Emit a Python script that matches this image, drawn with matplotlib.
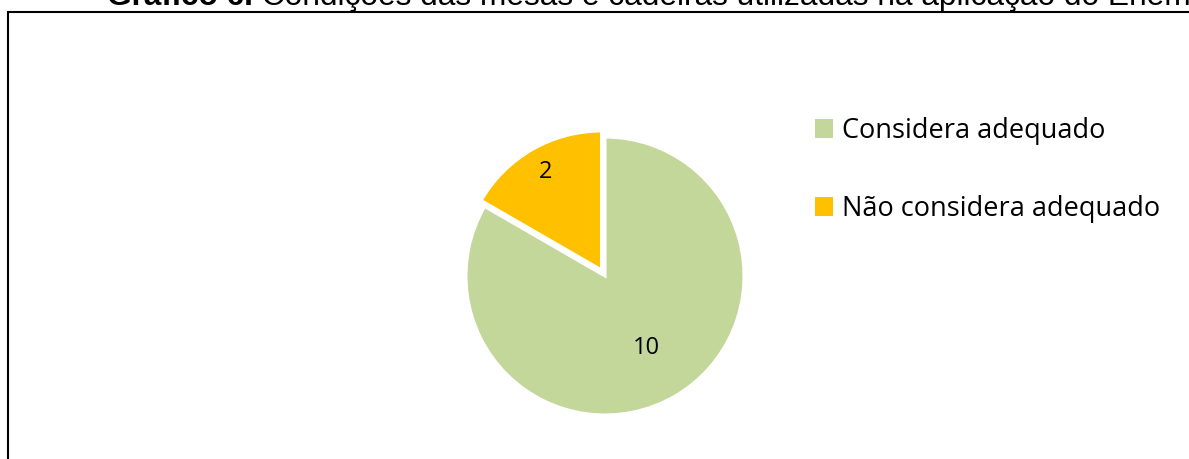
import matplotlib.pyplot as plt
import numpy as np
from matplotlib.patches import Rectangle

# dados do gráfico
categorias = ["Considera adequado", "Não considera adequado"]
valores = [10, 2]
cores = ["#C4D79B", "#FFC000"]
titulo_negrito = "Gráfico 6."
titulo_resto = " Condições das mesas e cadeiras utilizadas na aplicação do Enem"

W, H = 1189, 459
fig = plt.figure(figsize=(W / 100, H / 100), dpi=100)

# moldura do gráfico (sai pela direita e por baixo)
moldura = Rectangle((7.5 / W, -0.1), 1.2, 1 - 12 / H + 0.1, transform=fig.transFigure,
                    fill=False, edgecolor="black", linewidth=1.5)
fig.patches.append(moldura)

# pizza
cx, cy, r = 605, H - 276, 139
meia = 1.2 * r
ax = fig.add_axes([(cx - meia) / W, (cy - meia) / H, 2 * meia / W, 2 * meia / H])
wedges, _ = ax.pie(valores, colors=cores, startangle=90, counterclock=False,
                   explode=[0, 0.05], radius=1,
                   wedgeprops=dict(edgecolor="white", linewidth=2.2))
ax.set_xlim(-1.2, 1.2)
ax.set_ylim(-1.2, 1.2)
ax.set_aspect("equal")
ax.axis("off")

# título cortado no topo
t1 = fig.text(107 / W, 1 - 12 / H, titulo_negrito, fontsize=22.8, fontweight="bold",
              family="Liberation Sans", va="bottom", ha="left")
ax.annotate(titulo_resto, xy=(1, 0), xycoords=t1, fontsize=22.8,
            family="Liberation Sans", va="bottom", ha="left",
            annotation_clip=False)

# rótulos de dados
distancias = [0.6, 0.81]
for w, v, d in zip(wedges, valores, distancias):
    ang = np.deg2rad((w.theta1 + w.theta2) / 2)
    x = w.center[0] + d * np.cos(ang)
    y = w.center[1] + d * np.sin(ang)
    ax.text(x, y, str(v), ha="center", va="center", fontsize=17, family="Open Sans")

# legenda (quadrados sem a borda branca das fatias)
leg = fig.legend(wedges, categorias, loc="upper left", bbox_to_anchor=(815 / W, 1 - 117 / H),
                 frameon=False, prop=dict(family="Open Sans", size=19.5),
                 handlelength=0.68, handleheight=0.68, handletextpad=0.3,
                 labelspacing=1.85, borderpad=0, borderaxespad=0)
for h in leg.legend_handles:
    h.set_linewidth(0)

fig.savefig("out.png", dpi=100)
